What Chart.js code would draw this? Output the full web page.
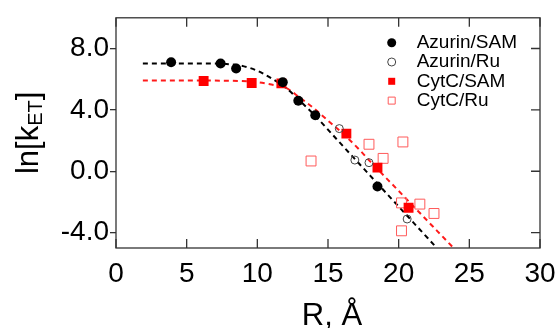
<!DOCTYPE html>
<html>
<head>
<meta charset="utf-8">
<script src="https://cdn.jsdelivr.net/npm/chart.js@4.4.1/dist/chart.umd.min.js"></script>
<style>
  html, body { margin: 0; padding: 0; background: #fff; }
  #wrap { width: 560px; height: 328px; }
</style>
</head>
<body>
<div id="wrap"><canvas id="chart"></canvas></div>
<script>
const FONT = "'Liberation Sans', Arial, Helvetica, sans-serif";

// measured points
const azurinSamR = [3.9, 7.4, 8.5, 11.8, 12.9, 14.1, 18.5];
const azurinSamK = [7.10, 7.02, 6.70, 5.80, 4.60, 3.65, -0.99];
const azurinRuR = [15.8, 16.9, 17.9, 20.6];
const azurinRuK = [2.78, 0.73, 0.56, -3.11];
const cytcSamR = [6.2, 9.6, 11.7, 16.3, 18.5, 20.7];
const cytcSamK = [5.88, 5.75, 5.73, 2.45, 0.24, -2.38];
const cytcRuR = [13.8, 17.9, 20.3, 18.9, 20.2, 21.5, 22.5, 20.2];
const cytcRuK = [0.67, 1.76, 1.91, 0.84, -2.06, -2.14, -2.75, -3.88];

// fitted curves
const azurinFitR = [1.9, 6, 8, 9, 10, 11, 12, 13, 14, 16, 18, 20, 22.7];
const azurinFitK = [7.02, 7.02, 6.98, 6.85, 6.55, 6.05, 5.45, 4.6, 3.7, 1.7, -0.3, -2.3, -5.0];
const cytcFitR = [1.9, 8, 10, 11, 12, 13, 14, 15, 16, 17.3, 18, 20, 23.8];
const cytcFitK = [5.92, 5.9, 5.8, 5.65, 5.45, 4.8, 4.1, 3.3, 2.5, 1.33, 0.63, -1.28, -4.92];

const xTicks = [0, 5, 10, 15, 20, 25, 30];
const yTicks = [-4, 0, 4, 8];

function pts(xs, ys) {
  return xs.map((x, i) => ({ x: x, y: ys[i] }));
}

const frameAndTicks = {
  id: "frameAndTicks",
  afterDraw(chart) {
    const ctx = chart.ctx;
    const a = chart.chartArea;
    const xs = chart.scales.x;
    const ys = chart.scales.y;
    ctx.save();
    ctx.strokeStyle = "#333";
    ctx.lineWidth = 1.3;
    ctx.strokeRect(a.left, a.top, a.right - a.left, a.bottom - a.top);
    ctx.beginPath();
    xTicks.forEach((v) => {
      const px = xs.getPixelForValue(v);
      ctx.moveTo(px, a.bottom);
      ctx.lineTo(px, a.bottom - 9);
      ctx.moveTo(px, a.top);
      ctx.lineTo(px, a.top + 9);
    });
    yTicks.forEach((v) => {
      const py = ys.getPixelForValue(v);
      ctx.moveTo(a.right, py);
      ctx.lineTo(a.right - 9, py);
    });
    ctx.stroke();

    // legend
    const items = chart.data.datasets.filter((d) => d.inLegend);
    items.forEach((d, i) => {
      const cx = 391.7;
      const cy = 42.7 + i * 19.3;
      ctx.lineWidth = 1;
      ctx.strokeStyle = d.pointBorderColor;
      ctx.fillStyle = d.pointBackgroundColor;
      ctx.beginPath();
      if (d.pointStyle === "circle") {
        ctx.arc(cx, cy, d.inLegend, 0, Math.PI * 2);
      } else {
        ctx.rect(cx - d.inLegend, cy - d.inLegend, d.inLegend * 2, d.inLegend * 2);
      }
      ctx.fill();
      if (d.pointBorderWidth > 0) ctx.stroke();
      ctx.fillStyle = "#000";
      ctx.font = "19px " + FONT;
      ctx.textBaseline = "middle";
      ctx.textAlign = "left";
      ctx.fillText(d.label, 416.7, cy);
    });

    // axis titles
    ctx.fillStyle = "#000";
    ctx.textBaseline = "alphabetic";
    ctx.textAlign = "center";
    ctx.font = "31px " + FONT;
    ctx.fillText("R, Å", (a.left + a.right) / 2 + 4, 325);

    ctx.translate(37.5, (a.top + a.bottom) / 2);
    ctx.rotate(-Math.PI / 2);
    ctx.textAlign = "left";
    const big = "31px " + FONT;
    const small = "20px " + FONT;
    ctx.font = big;
    const w1 = ctx.measureText("ln[k").width;
    const w3 = ctx.measureText("]").width;
    ctx.font = small;
    const w2 = ctx.measureText("ET").width;
    let u = -(w1 + w2 + w3) / 2;
    ctx.font = big;
    ctx.fillText("ln[k", u, 0);
    u += w1;
    ctx.font = small;
    ctx.fillText("ET", u, 4);
    u += w2;
    ctx.font = big;
    ctx.fillText("]", u, 0);
    ctx.restore();
  },
};

new Chart(document.getElementById("chart"), {
  type: "scatter",
  data: {
    datasets: [
      {
        label: "Azurin/SAM",
        data: pts(azurinSamR, azurinSamK),
        pointStyle: "circle",
        pointRadius: 5,
        pointBackgroundColor: "#000",
        pointBorderColor: "#000",
        pointBorderWidth: 0,
        inLegend: 4.5,
      },
      {
        label: "Azurin/Ru",
        data: pts(azurinRuR, azurinRuK),
        pointStyle: "circle",
        pointRadius: 4,
        pointBackgroundColor: "rgba(255,255,255,0)",
        pointBorderColor: "#444",
        pointBorderWidth: 1,
        inLegend: 4,
      },
      {
        label: "CytC/SAM",
        data: pts(cytcSamR, cytcSamK),
        pointStyle: "rect",
        pointRadius: 7,
        pointBackgroundColor: "#ff0000",
        pointBorderColor: "#ff0000",
        pointBorderWidth: 0,
        inLegend: 3.5,
      },
      {
        label: "CytC/Ru",
        data: pts(cytcRuR, cytcRuK),
        pointStyle: "rect",
        pointRadius: 7,
        pointBackgroundColor: "rgba(255,255,255,0)",
        pointBorderColor: "#ff5a5a",
        pointBorderWidth: 1,
        inLegend: 3.5,
      },
      {
        label: "fit Azurin",
        data: pts(azurinFitR, azurinFitK),
        showLine: true,
        cubicInterpolationMode: "monotone",
        borderColor: "#000",
        borderWidth: 2,
        borderDash: [5, 4],
        pointRadius: 0,
      },
      {
        label: "fit CytC",
        data: pts(cytcFitR, cytcFitK),
        showLine: true,
        cubicInterpolationMode: "monotone",
        borderColor: "#ff1a1a",
        borderWidth: 2,
        borderDash: [5, 4],
        pointRadius: 0,
      },
    ],
  },
  options: {
    responsive: true,
    maintainAspectRatio: false,
    animation: false,
    layout: {
      padding: { top: 16, right: 20, left: 0, bottom: 0 },
    },
    plugins: {
      legend: { display: false },
      tooltip: { enabled: false },
    },
    scales: {
      x: {
        min: 0,
        max: 30,
        afterBuildTicks: (s) => { s.ticks = xTicks.map((v) => ({ value: v })); },
        afterFit: (s) => { s.height = 80; },
        grid: { display: false },
        border: { display: false },
        ticks: {
          padding: 1,
          color: "#000",
          font: { family: FONT, size: 28 },
          maxRotation: 0,
        },
      },
      y: {
        min: -5,
        max: 10,
        afterBuildTicks: (s) => { s.ticks = yTicks.map((v) => ({ value: v })); },
        afterFit: (s) => { s.width = 116; },
        grid: {
          drawOnChartArea: false,
          tickLength: 6,
          color: "#333",
          lineWidth: 1.3,
        },
        border: { display: false },
        ticks: {
          padding: 1,
          color: "#000",
          font: { family: FONT, size: 28 },
          callback: (v) => v.toFixed(1),
        },
      },
    },
  },
  plugins: [frameAndTicks],
});
</script>
</body>
</html>
